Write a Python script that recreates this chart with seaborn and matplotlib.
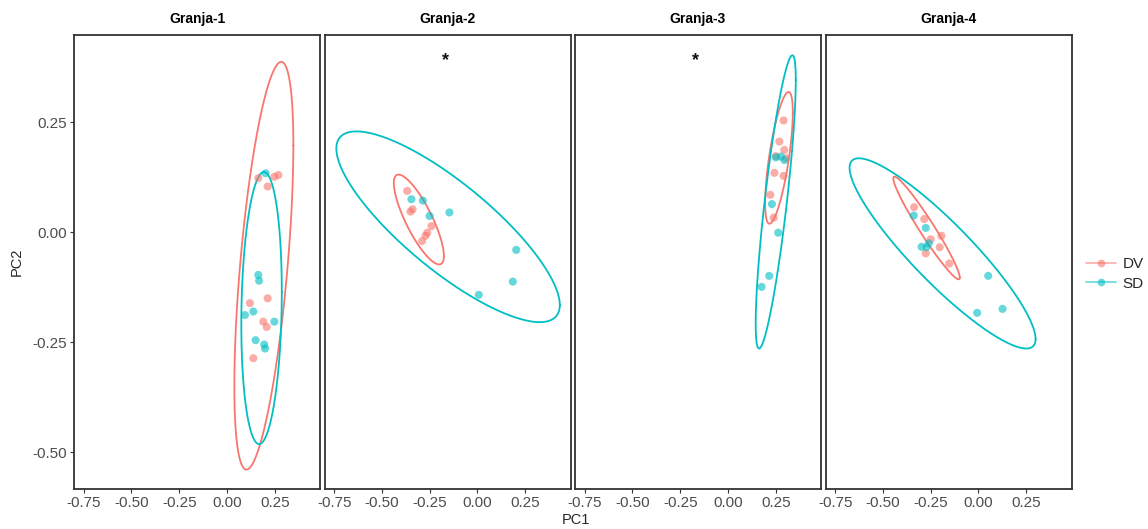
import numpy as np
import pandas as pd
import matplotlib
matplotlib.use("Agg")
import matplotlib.pyplot as plt
from matplotlib.lines import Line2D
import seaborn as sns

# ---------------- data ----------------
granjas = ["Granja-1", "Granja-2", "Granja-3", "Granja-4"]
grupos = ["DV", "SD"]

g1_dv_x = [0.164, 0.248, 0.269, 0.213, 0.213, 0.120, 0.190, 0.208, 0.138]
g1_dv_y = [0.123, 0.126, 0.130, 0.104, -0.150, -0.161, -0.203, -0.215, -0.286]
g1_sd_x = [0.202, 0.164, 0.168, 0.138, 0.094, 0.248, 0.150, 0.199, 0.195]
g1_sd_y = [0.134, -0.097, -0.110, -0.180, -0.188, -0.203, -0.245, -0.264, -0.255]

g2_dv_x = [-0.368, -0.351, -0.340, -0.241, -0.263, -0.272, -0.290]
g2_dv_y = [0.094, 0.047, 0.052, 0.014, -0.001, -0.008, -0.020]
g2_sd_x = [-0.346, -0.286, -0.251, -0.147, 0.203, 0.185, 0.007]
g2_sd_y = [0.075, 0.072, 0.037, 0.045, -0.040, -0.112, -0.142]

g3_dv_x = [0.291, 0.269, 0.295, 0.304, 0.243, 0.291, 0.222, 0.239, 0.251]
g3_dv_y = [0.254, 0.206, 0.187, 0.168, 0.135, 0.128, 0.085, 0.033, 0.173]
g3_sd_x = [0.277, 0.295, 0.230, 0.263, 0.216, 0.176, 0.251]
g3_sd_y = [0.172, 0.164, 0.064, -0.001, -0.099, -0.124, 0.170]

g4_dv_x = [-0.337, -0.284, -0.194, -0.250, -0.203, -0.276, -0.153]
g4_dv_y = [0.057, 0.030, -0.008, -0.016, -0.034, -0.048, -0.071]
g4_sd_x = [-0.339, -0.276, -0.298, -0.272, 0.051, 0.126, -0.007, -0.260]
g4_sd_y = [0.038, 0.010, -0.033, -0.034, -0.099, -0.174, -0.183, -0.025]

# ellipse summaries (centre, half-extent in x and y, correlation)
ell_granja = ["Granja-1", "Granja-1", "Granja-2", "Granja-2",
              "Granja-3", "Granja-3", "Granja-4", "Granja-4"]
ell_grupo = ["DV", "SD"] * 4
ell_cx = [0.193, 0.181, -0.307, -0.154, 0.267, 0.250, -0.272, -0.188]
ell_cy = [-0.076, -0.172, 0.029, 0.0125, 0.169, 0.069, 0.0098, -0.048]
ell_hx = [0.1545, 0.106, 0.131, 0.585, 0.0724, 0.105, 0.174, 0.487]
ell_hy = [0.463, 0.309, 0.102, 0.2166, 0.1496, 0.333, 0.1166, 0.216]
ell_r = [0.59, 0.12, -0.81, -0.82, 0.69, 0.83, -0.965, -0.90]

# significance marks
star_granja = ["Granja-2", "Granja-3"]
star_x = [-0.17, -0.17]
star_y = [0.40, 0.40]

x_ticks = [-0.75, -0.50, -0.25, 0.00, 0.25]
x_ticklabels = ["-0.75", "-0.50", "-0.25", "0.00", "0.25"]
y_ticks = [-0.50, -0.25, 0.00, 0.25]
y_ticklabels = ["-0.50", "-0.25", "0.00", "0.25"]

# ---------------- build frame ----------------
rows = []
series = {
    ("Granja-1", "DV"): (g1_dv_x, g1_dv_y), ("Granja-1", "SD"): (g1_sd_x, g1_sd_y),
    ("Granja-2", "DV"): (g2_dv_x, g2_dv_y), ("Granja-2", "SD"): (g2_sd_x, g2_sd_y),
    ("Granja-3", "DV"): (g3_dv_x, g3_dv_y), ("Granja-3", "SD"): (g3_sd_x, g3_sd_y),
    ("Granja-4", "DV"): (g4_dv_x, g4_dv_y), ("Granja-4", "SD"): (g4_sd_x, g4_sd_y),
}
for (g, grp), (xs, ys) in series.items():
    for x, y in zip(xs, ys):
        rows.append({"Granja": g, "Grupo": grp, "PC1": x, "PC2": y})
df = pd.DataFrame(rows)

sns.set_theme(style="white")
plt.rcParams["font.family"] = ["Liberation Sans", "DejaVu Sans"]

palette = {"DV": "#F8766D", "SD": "#00BFC4"}
W, H = 1148, 529
fig = plt.figure(figsize=(W / 100, H / 100), dpi=100)

panel_left = [74, 324.5, 575, 825.5]
panel_w = 246
top_px, bot_px = 35, 489
xlim = (-0.801, 0.487)
ylim = (-0.583, 0.448)

t = np.linspace(0, 2 * np.pi, 400)
for k, g in enumerate(granjas):
    ax = fig.add_axes([panel_left[k] / W, 1 - bot_px / H, panel_w / W, (bot_px - top_px) / H])
    sub = df[df["Granja"] == g]
    sns.scatterplot(data=sub, x="PC1", y="PC2", hue="Grupo", palette=palette,
                    hue_order=grupos, s=34, alpha=0.6, edgecolor="none",
                    legend=False, ax=ax, zorder=3)
    for i in range(len(ell_granja)):
        if ell_granja[i] != g:
            continue
        phi = np.arccos(ell_r[i])
        ex = ell_cx[i] + ell_hx[i] * np.cos(t)
        ey = ell_cy[i] + ell_hy[i] * np.cos(t - phi)
        ax.plot(ex, ey, color=palette[ell_grupo[i]], lw=1.3, zorder=2,
                solid_capstyle="round", solid_joinstyle="round")
    for sg, sx, sy in zip(star_granja, star_x, star_y):
        if sg == g:
            ax.annotate("*", (sx, sy), xytext=(0, -3.5), textcoords="offset points",
                        ha="center", va="center", fontsize=13,
                        fontweight="bold", color="#111111")
    ax.set_xlim(xlim)
    ax.set_ylim(ylim)
    ax.set_xticks(x_ticks)
    ax.set_xticklabels(x_ticklabels)
    ax.set_yticks(y_ticks)
    if k == 0:
        ax.set_yticklabels(y_ticklabels)
        ax.tick_params(axis="y", length=3, width=0.8, color="#333333",
                       labelsize=11, labelcolor="#4D4D4D", pad=2, left=True)
    else:
        ax.tick_params(axis="y", left=False, labelleft=False)
    ax.tick_params(axis="x", length=3, width=0.8, color="#333333",
                   labelsize=11, labelcolor="#4D4D4D", pad=2, bottom=True)
    ax.set_xlabel("")
    ax.set_ylabel("")
    for sp in ax.spines.values():
        sp.set_color("#333333")
        sp.set_linewidth(1.3)
    ax.grid(False)
    ax.set_title(g, fontsize=10, fontweight="bold", pad=9, color="black")

fig.text(576 / W, 1 - 520 / H, "PC1", ha="center", va="center", fontsize=10.5)
fig.text(17 / W, 1 - 262 / H, "PC2", ha="center", va="center", fontsize=10.5, rotation=90)

handles = [Line2D([], [], color=palette[gr], marker="o", markersize=5.5, lw=1.2,
                  alpha=0.6, markeredgewidth=0) for gr in grupos]
fig.legend(handles, grupos, loc="center left", bbox_to_anchor=(1078 / W, 1 - 274 / H),
           frameon=False, fontsize=11, handlelength=2.0, handletextpad=0.4,
           labelspacing=0.35, borderpad=0)

fig.savefig("out.png", dpi=100, facecolor="white")
